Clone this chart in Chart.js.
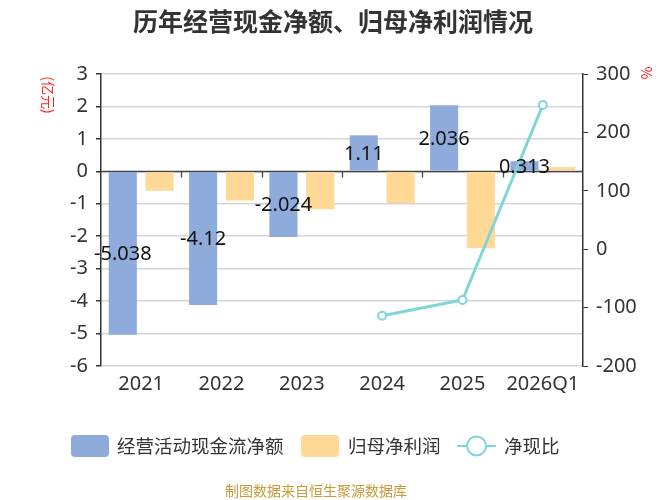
<!DOCTYPE html>
<html>
<head>
<meta charset="utf-8">
<script src="https://cdn.jsdelivr.net/npm/chart.js@4/dist/chart.umd.min.js"></script>
<style>
  html, body { margin: 0; padding: 0; background: #fff; }
  #wrap { width: 667px; height: 500px; position: relative; }
</style>
</head>
<body>
<div id="wrap"><canvas id="myChart" width="667" height="500"></canvas></div>
<script>
const years = ["2021", "2022", "2023", "2024", "2025", "2026Q1"];
const cashFlow = [-5.038, -4.12, -2.024, 1.11, 2.036, 0.313]; // 经营活动现金流净额 (亿元)
const netProfit = [-0.6, -0.9, -1.17, -0.98, -2.37, 0.13]; // 归母净利润 (亿元)
const cashRatio = [null, null, null, -114, -87, 247]; // 净现比 (%)
const leftTicks = [-6, 3];
const rightTicks = [-200, 300];

const FONT = '"Noto Sans", "Noto Sans CJK SC", sans-serif';
const CJK = '"Noto Sans CJK SC", sans-serif';
const BLUE = "#8eabdb";
const YELLOW = "#ffd995";
const TEAL = "#7fd5d8";

// title, unit labels, x zero line, bar labels, legend, footer
const extras = {
  id: "extras",
  beforeDatasetsDraw(chart) {
    const ctx = chart.ctx;
    const x = chart.scales.x, y = chart.scales.y;
    const y0 = Math.round(y.getPixelForValue(0)) + 0.5;
    ctx.save();
    ctx.strokeStyle = "#444";
    ctx.lineWidth = 1.3;
    ctx.beginPath();
    ctx.moveTo(chart.chartArea.left, y0);
    ctx.lineTo(chart.chartArea.right, y0);
    for (let i = 0; i < years.length - 1; i++) {
      const bx = Math.round((x.getPixelForValue(i) + x.getPixelForValue(i + 1)) / 2) + 0.5;
      ctx.moveTo(bx, y0);
      ctx.lineTo(bx, y0 + 6);
    }
    ctx.stroke();
    ctx.restore();
  },
  afterDatasetsDraw(chart) {
    const ctx = chart.ctx;
    ctx.save();
    // labels in the middle of the cash flow bars
    const meta = chart.getDatasetMeta(1);
    ctx.font = "20px " + FONT;
    ctx.fillStyle = "#111";
    ctx.textAlign = "center";
    ctx.textBaseline = "middle";
    meta.data.forEach((bar, i) => {
      ctx.fillText(String(cashFlow[i]), bar.x, (bar.y + bar.base) / 2 + 1);
    });
    ctx.restore();
  },
  afterDraw(chart) {
    const ctx = chart.ctx;
    ctx.save();
    ctx.textBaseline = "middle";

    ctx.fillStyle = "#333";
    ctx.font = "bold 25px " + CJK;
    ctx.textAlign = "center";
    ctx.fillText("历年经营现金净额、归母净利润情况", 333, 21);

    // unit labels, rotated
    ctx.fillStyle = "#ff2020";
    ctx.font = "14px " + CJK;
    ctx.save();
    ctx.translate(48, 95);
    ctx.rotate(Math.PI / 2);
    ctx.fillText("(亿元)", 0, 0);
    ctx.restore();
    ctx.save();
    ctx.translate(646, 73);
    ctx.rotate(Math.PI / 2);
    ctx.fillText("%", 0, 0);
    ctx.restore();

    // legend
    ctx.textAlign = "left";
    ctx.font = "18.5px " + CJK;
    const ly = 446;
    const box = (x0, color) => {
      ctx.fillStyle = color;
      ctx.beginPath();
      ctx.roundRect(x0, ly - 11, 38, 22, 4);
      ctx.fill();
    };
    box(71, BLUE);
    ctx.fillStyle = "#333";
    ctx.fillText("经营活动现金流净额", 117, ly);
    box(301, YELLOW);
    ctx.fillStyle = "#333";
    ctx.fillText("归母净利润", 348, ly);
    ctx.strokeStyle = TEAL;
    ctx.lineWidth = 2;
    ctx.beginPath();
    ctx.moveTo(457, ly);
    ctx.lineTo(496, ly);
    ctx.stroke();
    ctx.beginPath();
    ctx.arc(476.5, ly, 9.5, 0, Math.PI * 2);
    ctx.fillStyle = "#fff";
    ctx.fill();
    ctx.stroke();
    ctx.fillStyle = "#333";
    ctx.fillText("净现比", 504, ly);

    // footer
    ctx.textAlign = "center";
    ctx.font = "14px " + CJK;
    ctx.fillStyle = "#c99a3a";
    ctx.fillText("制图数据来自恒生聚源数据库", 316, 491);
    ctx.restore();
  }
};

const myChart = new Chart(document.getElementById("myChart").getContext("2d"), {
  type: "bar",
  data: {
    labels: years,
    datasets: [
      {
        type: "line",
        label: "净现比",
        data: cashRatio,
        yAxisID: "y1",
        borderColor: TEAL,
        borderWidth: 3,
        pointRadius: 4,
        pointBorderWidth: 2,
        pointBackgroundColor: "#fff",
        pointBorderColor: TEAL,
        tension: 0,
        spanGaps: false
      },
      {
        label: "经营活动现金流净额",
        data: cashFlow,
        yAxisID: "y",
        backgroundColor: BLUE,
        categoryPercentage: 0.915,
        barPercentage: 0.765
      },
      {
        label: "归母净利润",
        data: netProfit,
        yAxisID: "y",
        backgroundColor: YELLOW,
        categoryPercentage: 0.915,
        barPercentage: 0.765
      }
    ]
  },
  options: {
    responsive: false,
    animation: false,
    layout: { padding: { top: 74, left: 0, right: 0, bottom: 0 } },
    plugins: {
      legend: { display: false },
      title: { display: false },
      tooltip: { enabled: false }
    },
    scales: {
      x: {
        afterFit: s => { s.height = 134; },
        border: { display: false },
        grid: { display: false, drawTicks: false },
        ticks: { color: "#333", font: { size: 20, family: FONT }, padding: 6, maxRotation: 0, autoSkip: false }
      },
      y: {
        position: "left",
        min: leftTicks[0],
        max: leftTicks[1],
        afterFit: s => { s.width = 101; },
        border: { display: true, color: "#333", width: 1.5 },
        grid: { color: "#d6d6d6", lineWidth: 1.5, tickColor: "#333", tickLength: 5 },
        ticks: { stepSize: 1, color: "#333", font: { size: 20, family: FONT }, padding: 8 }
      },
      y1: {
        position: "right",
        min: rightTicks[0],
        max: rightTicks[1],
        afterFit: s => { s.width = 84; },
        border: { display: true, color: "#333", width: 1.5 },
        grid: { drawOnChartArea: false, tickColor: "#333", tickLength: 5 },
        ticks: { stepSize: 100, color: "#333", font: { size: 20, family: FONT }, padding: 8 }
      }
    }
  },
  plugins: [extras]
});
</script>
</body>
</html>
